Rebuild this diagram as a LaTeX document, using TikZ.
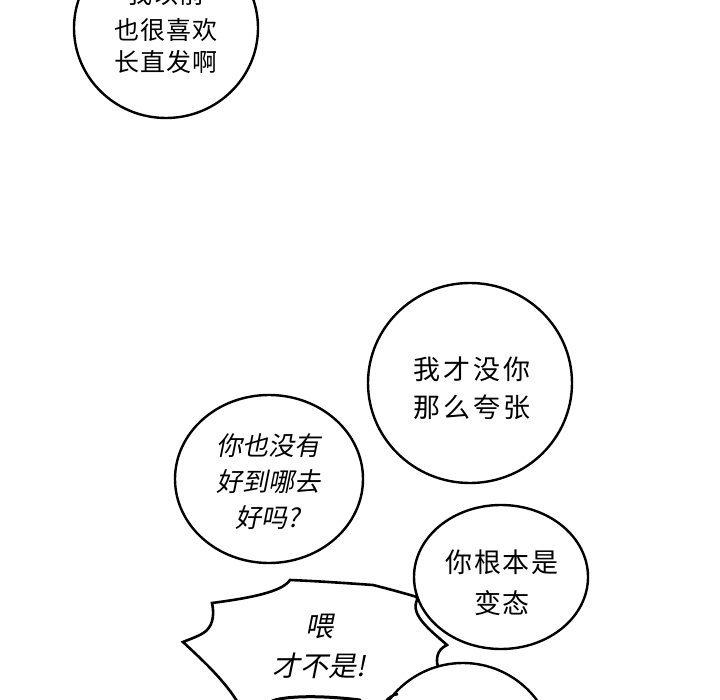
\documentclass[tikz,border=0pt]{standalone}
\usepackage{fontspec}
\newfontfamily\cjk{Noto Sans CJK SC}
\newfontfamily\cjksl{Noto Sans CJK SC}[FakeSlant=0.2]
\begin{document}
\begin{tikzpicture}[x=1pt,y=-1pt,
  bubble/.style={draw=black,line width=2.4pt,fill=white},
  spiky/.style={draw=black,line width=2.6pt,fill=white,line join=miter,miter limit=20},
  txt/.style={align=center,inner sep=0pt,text=black}]
\useasboundingbox (0,0) rectangle (720,700);
\clip (0,0) rectangle (720,700);
\fill[white] (0,0) rectangle (720,700);

% top bubble
\draw[bubble] (166,28) ellipse [x radius=92, y radius=90];
\node[txt,font=\cjk\fontsize{25}{32}\selectfont\addfontfeature{LetterSpace=5}] (t1) at (166,28) {我以前\\[4pt]也很喜欢\\长直发啊};

% bubble 2
\draw[bubble] (470,383) ellipse [x radius=102, y radius=100];
\node[txt,font=\cjk\fontsize{27}{38}\selectfont\addfontfeature{LetterSpace=10}] (t2) at (472,388) {我才没你\\那么夸张};

% bubble 3
\draw[bubble] (269,479) ellipse [x radius=94, y radius=84];
\node[txt,font=\cjksl\fontsize{26}{36}\selectfont] (t3) at (268,482) {你也没有\\好到哪去\\好吗?};

% spiky bubble
\draw[spiky] (417,597)
  .. controls (400,592) and (385,588) .. (373,585)
  .. controls (345,583) and (315,581) .. (290,580)
  .. controls (282,592) and (250,598) .. (212,603)
  .. controls (214,612) and (214,624) .. (206,631)
  .. controls (200,636) and (190,639) .. (183,642)
  .. controls (200,658) and (225,680) .. (240,706)
  -- (240,720) -- (440,720) -- (438,667)
  .. controls (436,660) and (436,650) .. (447,645)
  .. controls (430,630) and (410,615) .. (417,600) -- cycle;
\node[txt,font=\cjksl\fontsize{28}{40}\selectfont] (t5) at (319,646) {喂\\才不是!};

% bubble 4
\draw[bubble] (501,577) ellipse [x radius=87, y radius=72];
\node[txt,font=\cjk\fontsize{27}{41}\selectfont\addfontfeature{LetterSpace=7}] (t4) at (502,583) {你根本是\\变态};

% bottom bubble
\draw[bubble] (463,755) circle [radius=92];

% partial bubble at bottom edge
\draw[black,line width=3pt,line cap=round] (272,701) .. controls (285,696) and (320,695) .. (360,700);
\draw[black,line width=2.4pt] (386,701) .. controls (389,697) and (393,695) .. (398,694);
\end{tikzpicture}
\end{document}
